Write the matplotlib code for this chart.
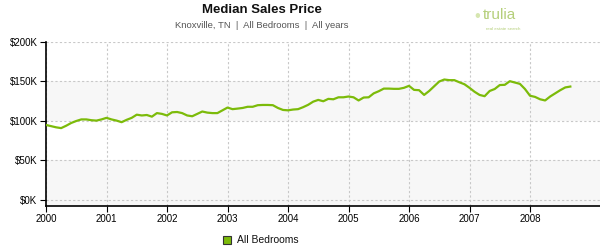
import numpy as np
import matplotlib
matplotlib.use("Agg")
import matplotlib.pyplot as plt
from matplotlib.patches import Rectangle

plt.rcParams['font.family'] = ['Liberation Sans', 'DejaVu Sans']

# monthly median price in $K, Jan 2000 .. Sep 2008
prices = [95, 93.5, 92, 91, 94, 97.5, 100, 102, 102, 101, 100.5, 102,
          104, 102, 100.5, 98.5, 101.5, 104, 108, 107, 107.6, 105.5, 110, 109,
          107, 111, 111.4, 110, 107, 106, 109, 112, 110.6, 110, 110, 113.5,
          117, 115, 115.7, 116.5, 118, 118, 120, 120.3, 120.3, 120, 116.5, 114,
          113.5, 114.5, 115, 117.5, 120.5, 124.5, 126.7, 125, 128, 127.5, 130, 130,
          131, 130, 126, 129.7, 130, 135, 137.7, 141, 141, 140.7, 140.7, 142,
          144.5, 139.4, 139, 133, 138, 144, 150, 152.5, 151.7, 151.7, 149, 146.5,
          142, 137, 133, 131.4, 138, 140.5, 145.5, 145.8, 150.4, 148.7, 147, 140.5,
          132, 130.5, 127.5, 126, 131, 135, 139, 142.5, 143.6]
years = list(range(2000, 2009))
yticks = [0, 50, 100, 150, 200]
ytick_labels = ['$0K', '$50K', '$100K', '$150K', '$200K']
series_name = 'All Bedrooms'

green = '#7cbb0a'
x = 2000 + np.arange(len(prices)) / 12.0

fig = plt.figure(figsize=(6, 2.5), dpi=100)
ax = fig.add_axes([46 / 600, 1 - 206 / 250, 554 / 600, 164 / 250])

ax.set_xlim(2000, 2000 + 554 / 60.5)
ax.set_ylim(-7.6, 200)

# alternating bands
for lo, hi in [(-7.6, 50), (100, 150)]:
    ax.axhspan(lo, hi, color='#f7f7f7', zorder=0, lw=0)

ax.plot(x, prices, color=green, lw=1.6, zorder=3, solid_joinstyle='round')

ax.set_xticks(years)
ax.set_xticklabels([str(y) for y in years])
ax.set_yticks(yticks)
ax.set_yticklabels(ytick_labels)
ax.grid(True, color='#c8c8c8', ls=(0, (2, 2)), lw=0.8)
ax.set_axisbelow(True)
for s in ['top', 'right']:
    ax.spines[s].set_visible(False)
for s in ['left', 'bottom']:
    ax.spines[s].set_linewidth(1.2)
ax.tick_params(axis='both', labelsize=7, length=4, width=0.8, pad=2)

fig.text(262 / 600, 1 - 10 / 250, 'Median Sales Price', ha='center', va='center',
         fontsize=9.5, fontweight='bold', color='#111111')
fig.text(262 / 600, 1 - 25 / 250, 'Knoxville, TN  |  All Bedrooms  |  All years',
         ha='center', va='center', fontsize=6.8, color='#555555')

# trulia logo text
fig.text(483 / 600, 1 - 15 / 250, 'trulia', ha='left', va='center', fontsize=11,
         color='#b5cf7a')
fig.text(486 / 600, 1 - 29 / 250, 'real estate search', ha='left', va='center',
         fontsize=3.2, color='#b5cf7a')
fig.text(477 / 600, 1 - 16 / 250, '\u2022', ha='center', va='center', fontsize=12,
         color='#d6e6b0')

# legend
fig.patches.append(Rectangle((223 / 600, 1 - 244 / 250), 8 / 600, 8 / 250,
                             transform=fig.transFigure, facecolor=green,
                             edgecolor='#333333', lw=0.8))
fig.text(237 / 600, 1 - 240 / 250, series_name, ha='left', va='center',
         fontsize=7.5, color='#111111')

fig.savefig('out.png', dpi=100)
